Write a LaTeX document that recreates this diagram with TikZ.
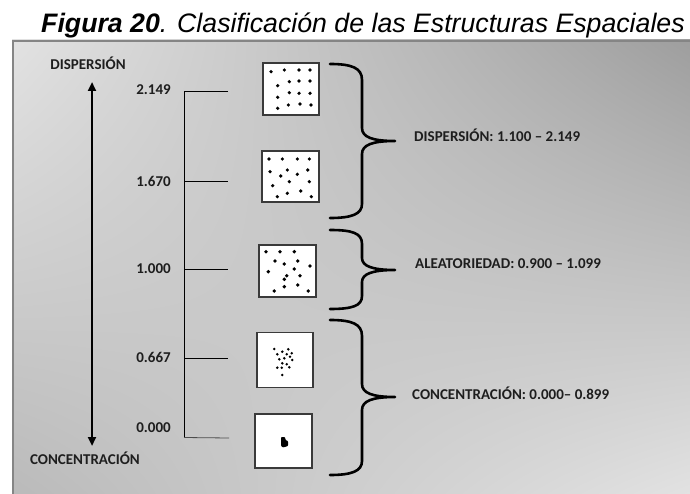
\documentclass[tikz,border=0pt]{standalone}
\usepackage{fontspec}
\setmainfont{Carlito}
\newfontfamily\arialf{Liberation Sans}
\usetikzlibrary{arrows.meta,shadings}
\definecolor{boxedge}{HTML}{3A3A3A}
\definecolor{framegray}{HTML}{858585}
\definecolor{bgTL}{HTML}{E2E2E2}
\definecolor{bgTR}{HTML}{9E9E9E}
\definecolor{bgBL}{HTML}{BABABA}
\definecolor{bgBR}{HTML}{E2E2E2}
\definecolor{txt}{HTML}{1E1E1E}
\begin{document}
\begin{tikzpicture}[x=1pt,y=-1pt,
  lbl/.style={font=\fontsize{15}{17}\selectfont\bfseries, inner sep=0pt, text=txt},
  sbox/.style={draw=boxedge, line width=1.3pt, fill=white, inner sep=0pt},
  tick/.style={line width=0.8pt, black},
  brace/.style={line width=2.6pt, black, line cap=round, line join=round},
  dot/.style={fill=black}]
\useasboundingbox (0,0) rectangle (690,494);
\fill[white] (0,0) rectangle (690,494);
\shade[upper left=bgTL, upper right=bgTR, lower left=bgBL, lower right=bgBR] (12,40) rectangle (690,494);
\draw[framegray, line width=1.8pt] (12.9,494) -- (12.9,40.9) -- (690,40.9);
% title
\node[anchor=base west, inner sep=0pt, font=\arialf\fontsize{26.7}{30}\selectfont] (title) at (41,33)
  {\textbf{\textit{Figura 20}}\textit{. Clasificación de las Estructuras Espaciales}};
% axis
\node[lbl] (disp) at (88,63) {DISPERSIÓN};
\node[lbl] (conc) at (85,458) {CONCENTRACIÓN};
\coordinate (atop) at (92,82);
\coordinate (abot) at (92,446);
\draw[line width=2.4pt, {Triangle[width=8pt,length=9pt]}-{Triangle[width=8pt,length=9pt]}] (atop) -- (abot);
% values
\node[lbl, anchor=east] (v1) at (171,90) {2.149};
\node[lbl, anchor=east] (v2) at (171,181) {1.670};
\node[lbl, anchor=east] (v3) at (171,269) {1.000};
\node[lbl, anchor=east] (v4) at (171,357) {0.667};
\node[lbl, anchor=east] (v5) at (171,428) {0.000};
\coordinate (t1) at (184,91);   \coordinate (e1) at (228,91);
\coordinate (t2) at (184,181);  \coordinate (e2) at (228,181);
\coordinate (t3) at (184,269);  \coordinate (e3) at (228,269);
\coordinate (t4) at (184,358);  \coordinate (e4) at (228,358);
\coordinate (t5) at (184,437.5);\coordinate (e5) at (229,438);
\draw[tick] (e1) -- (t1) -- (t5);
\draw[tick] (t2) -- (e2);
\draw[tick] (t3) -- (e3);
\draw[tick] (t4) -- (e4);
\draw[tick, black!70] (t5) -- (e5);
% boxes
\node[sbox, minimum width=56pt, minimum height=52pt] (b1) at (291,89) {};
\node[sbox, minimum width=57pt, minimum height=51pt] (b2) at (290.5,176.5) {};
\node[sbox, minimum width=57pt, minimum height=52pt] (b3) at (287.5,271) {};
\node[sbox, minimum width=56pt, minimum height=55pt] (b4) at (285,360) {};
\node[sbox, minimum width=57pt, minimum height=54pt] (b5) at (283.5,441) {};
% dots
\foreach \x/\y in {271/71.7,284.3/70,299/70,310/70,277.7/85.7,289.3/81.7,299/81,310/81,
  277.7/97.3,289.3/92.7,299/93.3,310/93.3,277.7/108.3,288.3/105,300/104,311/105}
  \fill[dot] (\x,\y) circle (1.8);
\foreach \x/\y in {269/159,282.3/159,297.3/159,309.3/159,270/171.7,280.7/176,287.3/170,297.3/174.3,307.7/170,
  272.7/185.7,289.3/181.7,309.3/181.7,277.3/196.7,287.3/193.3,300.7/191,311.3/196.7}
  \fill[dot] (\x,\y) circle (1.8);
\foreach \x/\y in {266/251.7,280/251.7,294.3/251.7,275/261,284.3/264,297.7/261,310/266,
  268.3/271.7,294.3/269,286.7/275.7,300/275.7,284.3/279.3,274.3/291,284.3/286.7,297.7/285,308.3/291}
  \fill[dot] (\x,\y) circle (1.9);
\foreach \x/\y in {274.3/349,282.3/351.7,288.3/349.3,277.3/354.3,286.7/354.3,290/356.7,291.7/353.3,
  279.3/359.3,284.3/358.3,292.3/360,282.3/363.3,286.7/364.3,277.3/367.7,281.7/367.7,289.3/367.3,282.3/375}
  \fill[dot] (\x,\y) circle (1.4);
\fill[black, rounded corners=0.8pt] (281,437) -- (285,437) -- (285.5,440) -- (288,441) -- (288,446) -- (283,447.5) -- (281,446) -- cycle;
% braces
\draw[brace] (330,64) .. controls (352,64) and (362,68) .. (362,80) -- (362,128)
  .. controls (362,137) and (372,141) .. (395,141)
  .. controls (372,141) and (362,145) .. (362,154) -- (362,204)
  .. controls (362,214) and (352,218) .. (330,218);
\draw[brace] (330,230) .. controls (352,230) and (362,233) .. (362,244) -- (362,258)
  .. controls (362,266) and (372,270) .. (395,270)
  .. controls (372,270) and (362,274) .. (362,282) -- (362,296)
  .. controls (362,306) and (352,309) .. (330,309);
\draw[brace] (330,320) .. controls (352,320) and (362,324) .. (362,336) -- (362,384)
  .. controls (362,393) and (372,397) .. (395,397)
  .. controls (372,397) and (362,401) .. (362,410) -- (362,461)
  .. controls (362,471) and (352,475) .. (330,475);
% range labels
\node[lbl, anchor=west] (r1) at (414,135) {DISPERSIÓN: 1.100 – 2.149};
\node[lbl, anchor=west] (r2) at (415,264) {ALEATORIEDAD: 0.900 – 1.099};
\node[lbl, anchor=west] (r3) at (412,393) {CONCENTRACIÓN: 0.000– 0.899};
\end{tikzpicture}
\end{document}
